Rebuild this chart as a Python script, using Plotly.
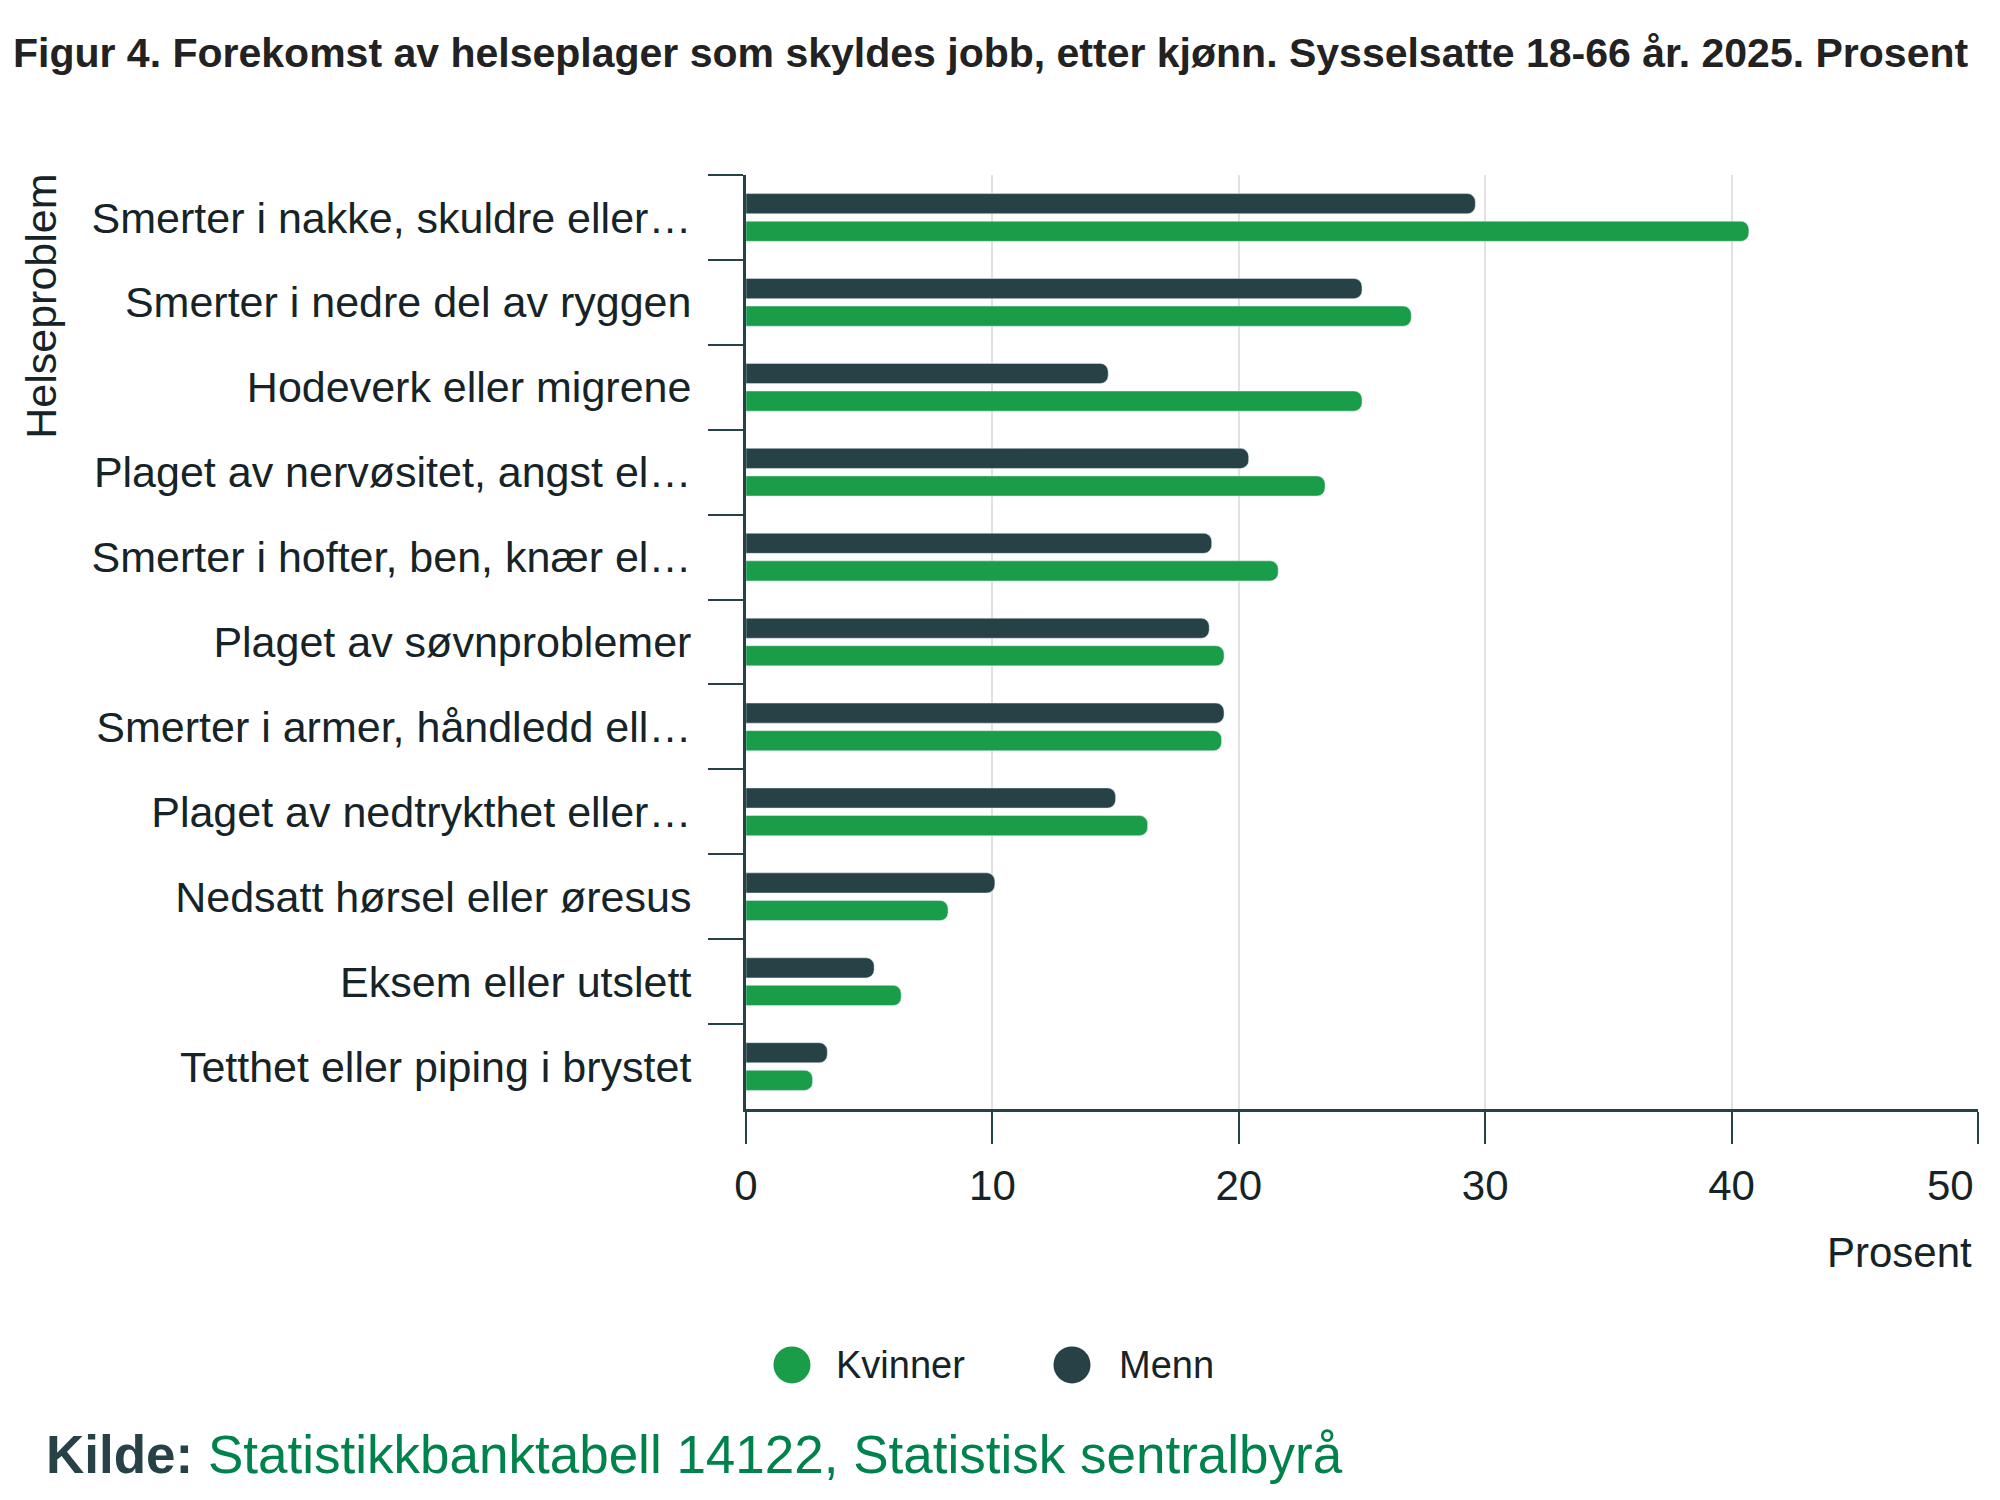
import plotly.graph_objects as go

# Data (percent)
categories = [
    "Smerter i nakke, skuldre eller…",
    "Smerter i nedre del av ryggen",
    "Hodeverk eller migrene",
    "Plaget av nervøsitet, angst el…",
    "Smerter i hofter, ben, knær el…",
    "Plaget av søvnproblemer",
    "Smerter i armer, håndledd ell…",
    "Plaget av nedtrykthet eller…",
    "Nedsatt hørsel eller øresus",
    "Eksem eller utslett",
    "Tetthet eller piping i brystet",
]
menn = [29.6, 25.0, 14.7, 20.4, 18.9, 18.8, 19.4, 15.0, 10.1, 5.2, 3.3]
kvinner = [40.7, 27.0, 25.0, 23.5, 21.6, 19.4, 19.3, 16.3, 8.2, 6.3, 2.7]
x_ticks = [0, 10, 20, 30, 40, 50]
x_ticktext = ["0", "10", "20", "30", "40", "50"]

GREEN = "#1a9d49"
DARK = "#274247"
TEXT = "#162327"
FONT = "Liberation Sans, Arial, sans-serif"

fig = go.Figure()

# Menn first so it sits on top inside each group (reversed y axis)
fig.add_trace(go.Bar(
    y=categories, x=menn, name="Menn", orientation="h",
    marker=dict(color=DARK, cornerradius=8),
    showlegend=False,
))
fig.add_trace(go.Bar(
    y=categories, x=kvinner, name="Kvinner", orientation="h",
    marker=dict(color=GREEN, cornerradius=8),
    showlegend=False,
))

fig.update_layout(
    width=2000, height=1500,
    margin=dict(l=738, r=30, t=167, b=399, autoexpand=False),
    paper_bgcolor="white", plot_bgcolor="white",
    barmode="group", bargap=0.35, bargroupgap=0.27,
    font=dict(family=FONT, color=TEXT, size=42),
    title=dict(
        text="<b>Figur 4. Forekomst av helseplager som skyldes jobb, etter kjønn. Sysselsatte 18-66 år. 2025. Prosent</b>",
        x=0.0025, xanchor="left", xref="container",
        y=1 - 45 / 1500, yanchor="middle", yref="container",
        font=dict(family=FONT, size=41, color="#222222"),
    ),
)

# the last label is right-aligned to its tick in the original, so it is
# drawn separately below
fig.update_xaxes(
    range=[0, 50], tickvals=x_ticks, ticktext=x_ticktext[:-1] + [""],
    showgrid=True, gridcolor="#e1e1e1", gridwidth=2,
    showline=True, linecolor=DARK, linewidth=3,
    ticks="outside", ticklen=32, tickwidth=2, tickcolor=DARK,
    ticklabelstandoff=6,
    tickfont=dict(size=42, color=TEXT),
    zeroline=False, automargin=False,
)
fig.update_yaxes(
    autorange="reversed",
    showline=True, linecolor=DARK, linewidth=3,
    ticks="outside", ticklen=35, tickwidth=2, tickcolor=DARK,
    tickson="boundaries", ticklabelstandoff=43,
    tickfont=dict(size=43, color=TEXT),
    showgrid=False, automargin=False,
)

fig.add_annotation(
    text=x_ticktext[-1], xref="x", yref="paper", x=x_ticks[-1], y=-0.0824,
    xanchor="right", yanchor="middle", xshift=-2, showarrow=False,
    font=dict(size=42, color=TEXT),
)

# Axis titles
fig.add_annotation(
    text="Prosent", xref="paper", yref="paper", x=0.9968, y=-0.154,
    xanchor="right", yanchor="middle", showarrow=False,
    font=dict(size=42, color=TEXT),
)
fig.add_annotation(
    text="Helseproblem", xref="paper", yref="paper", x=-0.5722, y=1.003,
    xanchor="center", yanchor="top", textangle=-90, showarrow=False,
    font=dict(size=43, color=TEXT),
)

# Legend drawn with round markers
legend_items = [("Kvinner", GREEN, 0.0373, 0.0714), ("Menn", DARK, 0.2646, 0.3011)]
for label, color, cx, tx in legend_items:
    fig.add_shape(
        type="circle", xref="paper", yref="paper",
        xsizemode="pixel", ysizemode="pixel",
        xanchor=cx, yanchor=-0.274, x0=-18.5, x1=18.5, y0=-18.5, y1=18.5,
        fillcolor=color, line=dict(width=0),
    )
    fig.add_annotation(
        text=label, xref="paper", yref="paper", x=tx, y=-0.274,
        xanchor="left", yanchor="middle", showarrow=False,
        font=dict(size=38, color=TEXT),
    )

# Source line
fig.add_annotation(
    text="<b>Kilde:</b> <span style='color:#00824d'>Statistikkbanktabell 14122, Statistisk sentralbyrå</span>",
    xref="paper", yref="paper", x=-0.5698, y=-0.3704,
    xanchor="left", yanchor="middle", showarrow=False,
    font=dict(size=53, color=DARK),
)

fig.write_html("out.html")
